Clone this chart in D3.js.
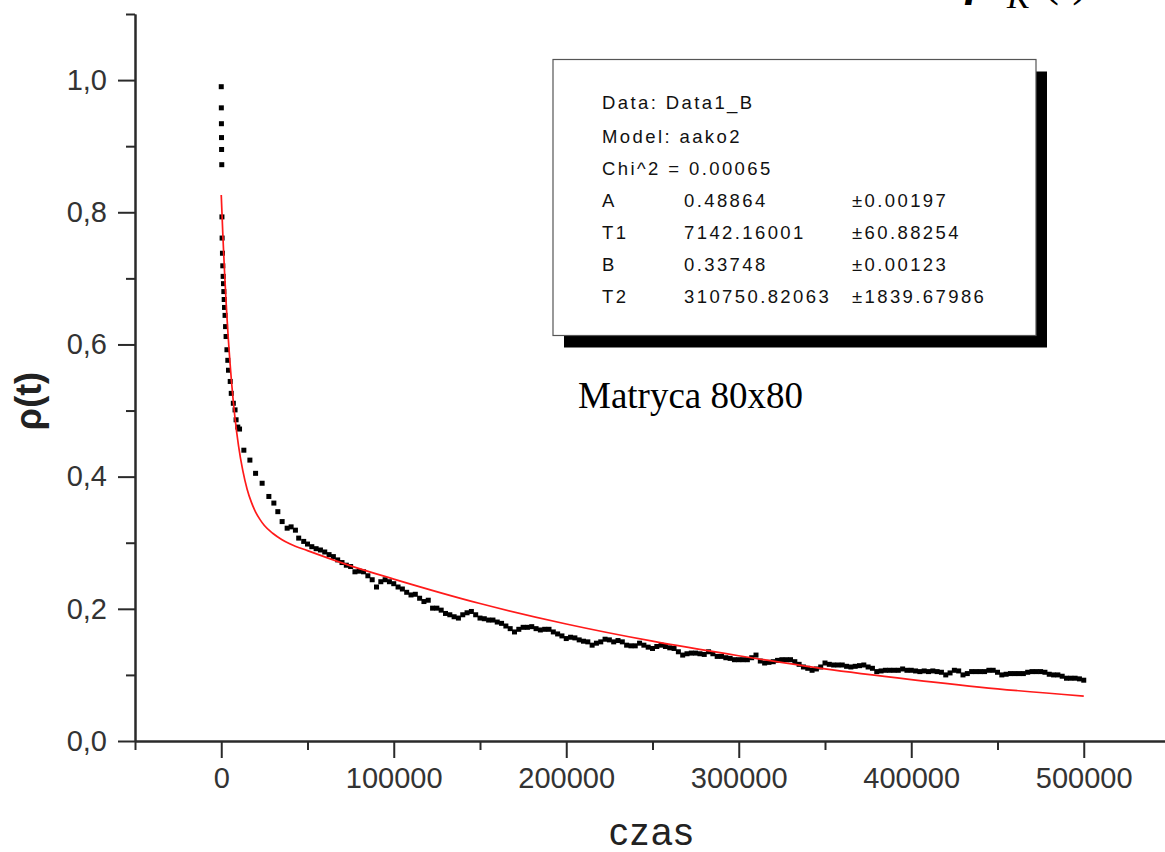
<!DOCTYPE html>
<html>
<head>
<meta charset="utf-8">
<script src="https://cdn.jsdelivr.net/npm/d3@7"></script>
<style>
html, body { margin: 0; padding: 0; background: #ffffff; }
svg { display: block; }
</style>
</head>
<body>
<div id="chart"></div>
<script>
const timeSteps = [
    0, 50, 100, 150, 200, 300, 400, 500, 700, 900, 1100, 1300, 1500, 1700, 1900, 2200, 2500, 2800,
    3300, 3800, 4200, 5200, 5800, 7000, 8000, 8600, 9600, 10600, 13100, 16600, 19900, 23700, 27600,
    30500, 32800, 35300, 38200, 40500, 43000, 44900, 47800, 50000, 52500, 55000, 57500,
    60000, 62500, 65000, 67500, 70000, 72500, 75000, 77500, 80000, 82500, 85000, 87500, 90000, 92500,
    95000, 97500, 100000, 102500, 105000, 107500, 110000, 112500, 115000, 117500, 120000, 122500,
    125000, 127500, 130000, 132500, 135000, 137500, 140000, 142500, 145000, 147500, 150000, 152500,
    155000, 157500, 160000, 162500, 165000, 167500, 170000, 172500, 175000, 177500, 180000, 182500,
    185000, 187500, 190000, 192500, 195000, 197500, 200000, 202500, 205000, 207500, 210000, 212500,
    215000, 217500, 220000, 222500, 225000, 227500, 230000, 232500, 235000, 237500, 240000, 242500,
    245000, 247500, 250000, 252500, 255000, 257500, 260000, 262500, 265000, 267500, 270000, 272500,
    275000, 277500, 280000, 282500, 285000, 287500, 290000, 292500, 295000, 297500, 300000, 302500,
    305000, 307500, 310000, 312500, 315000, 317500, 320000, 322500, 325000, 327500, 330000, 332500,
    335000, 337500, 340000, 342500, 345000, 347500, 350000, 352500, 355000, 357500, 360000, 362500,
    365000, 367500, 370000, 372500, 375000, 377500, 380000, 382500, 385000, 387500, 390000, 392500,
    395000, 397500, 400000, 402500, 405000, 407500, 410000, 412500, 415000, 417500, 420000, 422500,
    425000, 427500, 430000, 432500, 435000, 437500, 440000, 442500, 445000, 447500, 450000, 452500,
    455000, 457500, 460000, 462500, 465000, 467500, 470000, 472500, 475000, 477500, 480000, 482500,
    485000, 487500, 490000, 492500, 495000, 497500, 500000
];
const rhoMeasured = [
    0.990, 0.958, 0.934, 0.913, 0.895, 0.872, 0.793, 0.761, 0.738, 0.719, 0.703, 0.692, 0.680, 0.668,
    0.656, 0.644, 0.627, 0.612, 0.592, 0.576, 0.561, 0.544, 0.526, 0.511, 0.501, 0.486, 0.475, 0.472,
    0.440, 0.425, 0.405, 0.390, 0.370, 0.360, 0.347, 0.332, 0.322, 0.324, 0.319, 0.307, 0.302, 0.298,
    0.294, 0.291, 0.289,
    0.286, 0.282, 0.279, 0.274, 0.270, 0.266, 0.264, 0.256, 0.257, 0.256, 0.250, 0.244, 0.233, 0.241,
    0.244, 0.241, 0.238, 0.233, 0.230, 0.225, 0.221, 0.222, 0.216, 0.211, 0.213, 0.201,
    0.201, 0.198, 0.193, 0.191, 0.188, 0.186, 0.191, 0.194, 0.196, 0.191, 0.186, 0.185,
    0.183, 0.183, 0.180, 0.178, 0.174, 0.170, 0.165, 0.169, 0.172, 0.172, 0.173, 0.170,
    0.168, 0.169, 0.169, 0.165, 0.162, 0.159, 0.155, 0.157, 0.156, 0.153, 0.151, 0.150,
    0.145, 0.148, 0.150, 0.154, 0.153, 0.150, 0.152, 0.150, 0.145, 0.144, 0.144, 0.148,
    0.145, 0.142, 0.140, 0.143, 0.145, 0.143, 0.141, 0.140, 0.135, 0.130, 0.132, 0.133,
    0.133, 0.132, 0.131, 0.135, 0.132, 0.128, 0.128, 0.126, 0.125, 0.123, 0.123, 0.123,
    0.123, 0.126, 0.130, 0.121, 0.118, 0.119, 0.120, 0.122, 0.123, 0.123, 0.123, 0.120,
    0.116, 0.112, 0.110, 0.107, 0.109, 0.112, 0.118, 0.116, 0.115, 0.115, 0.115, 0.113,
    0.112, 0.113, 0.114, 0.115, 0.112, 0.110, 0.105, 0.106, 0.107, 0.107, 0.107, 0.107,
    0.109, 0.107, 0.107, 0.106, 0.105, 0.106, 0.105, 0.106, 0.105, 0.104, 0.100, 0.103,
    0.107, 0.106, 0.100, 0.102, 0.105, 0.105, 0.105, 0.105, 0.107, 0.107, 0.104, 0.100,
    0.101, 0.102, 0.102, 0.102, 0.102, 0.104, 0.105, 0.105, 0.105, 0.104, 0.101, 0.100,
    0.100, 0.098, 0.095, 0.095, 0.095, 0.094, 0.092
];

// fitted curve (red)
const fitTime = [0, 1000, 2000, 3000, 4000, 5000, 6000, 8000, 10000, 12500, 15000, 17500, 20000,
    22500, 25000, 30000, 35000, 40000, 50000, 75000, 100000, 150000, 200000, 250000, 300000,
    350000, 400000, 450000, 500000];
const fitRho = [0.826, 0.761, 0.705, 0.655, 0.612, 0.575, 0.542, 0.488, 0.447, 0.409, 0.381, 0.361,
    0.346, 0.335, 0.326, 0.314, 0.305, 0.298, 0.288, 0.265, 0.245, 0.208, 0.177, 0.151, 0.129,
    0.109, 0.093, 0.079, 0.068];

const xMajorTicks = [0, 100000, 200000, 300000, 400000, 500000];
const xMinorTicks = [-50000, 50000, 150000, 250000, 350000, 450000, 550000];
const yMajorTicks = [0, 0.2, 0.4, 0.6, 0.8, 1.0];
const yMinorTicks = [0.1, 0.3, 0.5, 0.7, 0.9, 1.1];

const legendRows = [
    ['Data: Data1_B', '', ''],
    ['Model: aako2', '', ''],
    ['Chi^2 = 0.00065', '', ''],
    ['A', '0.48864', '±0.00197'],
    ['T1', '7142.16001', '±60.88254'],
    ['B', '0.33748', '±0.00123'],
    ['T2', '310750.82063', '±1839.67986']
];

const width = 1165;
const height = 852;
const sansFont = '"Liberation Sans", Arial, sans-serif';
const serifFont = '"Liberation Serif", "Times New Roman", serif';
const axisColor = '#2a2a2a';

const svg = d3.select('#chart')
    .append('svg')
    .attr('width', width)
    .attr('height', height);

svg.append('rect').attr('width', width).attr('height', height).attr('fill', '#ffffff');

const x = d3.scaleLinear().domain([-50000, 550000]).range([135, 1170]);
const y = d3.scaleLinear().domain([0, 1.1]).range([741, 14]);

function styleAxis(g) {
    g.selectAll('path, line').attr('stroke', axisColor).attr('stroke-width', 2);
    g.selectAll('text')
        .attr('fill', '#333333')
        .attr('font-family', sansFont)
        .attr('font-size', 29);
}

// Y axis
svg.append('g')
    .attr('transform', 'translate(135,0)')
    .call(d3.axisLeft(y).tickValues(yMinorTicks).tickSize(9).tickSizeOuter(0).tickFormat(''))
    .call(styleAxis);
svg.append('g')
    .attr('transform', 'translate(135,0)')
    .call(d3.axisLeft(y)
        .tickValues(yMajorTicks)
        .tickSize(17)
        .tickSizeOuter(0)
        .tickPadding(11)
        .tickFormat((d) => d.toFixed(1).replace('.', ',')))
    .call(styleAxis);

// X axis
svg.append('g')
    .attr('transform', 'translate(0,741)')
    .call(d3.axisBottom(x).tickValues(xMinorTicks).tickSize(9).tickSizeOuter(0).tickFormat(''))
    .call(styleAxis);
svg.append('g')
    .attr('transform', 'translate(0,741)')
    .call(d3.axisBottom(x)
        .tickValues(xMajorTicks)
        .tickSize(17)
        .tickSizeOuter(0)
        .tickPadding(9)
        .tickFormat(d3.format('d')))
    .call(styleAxis);

// measured points
const points = d3.zip(timeSteps, rhoMeasured);
svg.append('g')
    .selectAll('rect')
    .data(points)
    .join('rect')
    .attr('x', (d) => x(d[0]) - 2.5)
    .attr('y', (d) => y(d[1]) - 2.5)
    .attr('width', 5)
    .attr('height', 5)
    .attr('fill', '#000000');

// fit line
const fitLine = d3.line()
    .x((d) => x(d[0]))
    .y((d) => y(d[1]))
    .curve(d3.curveMonotoneX);
svg.append('path')
    .datum(d3.zip(fitTime, fitRho))
    .attr('d', fitLine)
    .attr('fill', 'none')
    .attr('stroke', '#ff1a1a')
    .attr('stroke-width', 1.7);

// legend box with drop shadow
const box = { x: 553, y: 59.5, w: 483, h: 276 };
svg.append('rect')
    .attr('x', box.x + 11).attr('y', box.y + 12)
    .attr('width', box.w).attr('height', box.h)
    .attr('fill', '#000000');
svg.append('rect')
    .attr('x', box.x).attr('y', box.y)
    .attr('width', box.w).attr('height', box.h)
    .attr('fill', '#ffffff')
    .attr('stroke', '#555555')
    .attr('stroke-width', 1.2);

const colX = [602, 684, 852];
const rowBase = [109, 143, 175, 207, 239, 271, 303];
const legendText = svg.append('g')
    .attr('font-family', sansFont)
    .attr('font-size', 18.5)
    .attr('letter-spacing', 2.4)
    .attr('fill', '#111111');
legendRows.forEach((row, i) => {
    row.forEach((cell, j) => {
        if (!cell) return;
        legendText.append('text')
            .attr('x', colX[j])
            .attr('y', rowBase[i])
            .text(cell);
    });
});

// annotation
svg.append('text')
    .attr('x', 578)
    .attr('y', 408)
    .attr('font-family', serifFont)
    .attr('font-size', 37)
    .attr('fill', '#000000')
    .text('Matryca 80x80');

// axis titles
svg.append('text')
    .attr('x', 652)
    .attr('y', 845)
    .attr('text-anchor', 'middle')
    .attr('font-family', sansFont)
    .attr('font-size', 38)
    .attr('letter-spacing', 2)
    .attr('fill', '#222222')
    .text('czas');

svg.append('text')
    .attr('transform', 'translate(41,401) rotate(-90)')
    .attr('text-anchor', 'middle')
    .attr('font-family', sansFont)
    .attr('font-size', 36)
    .attr('font-weight', 'bold')
    .attr('fill', '#222222')
    .text('ρ(t)');

// cut-off title in the top right corner
const corner = svg.append('text')
    .attr('font-family', serifFont)
    .attr('fill', '#000000');
corner.append('tspan')
    .attr('x', 966).attr('y', -5)
    .attr('font-size', 48).attr('font-style', 'italic').attr('font-weight', 'bold')
    .text('ρ');
corner.append('tspan')
    .attr('x', 1007).attr('y', 8)
    .attr('font-size', 34).attr('font-style', 'italic')
    .text('K');
corner.append('tspan')
    .attr('x', 1043).attr('y', -5)
    .attr('font-size', 48)
    .text('(t)');
</script>
</body>
</html>
